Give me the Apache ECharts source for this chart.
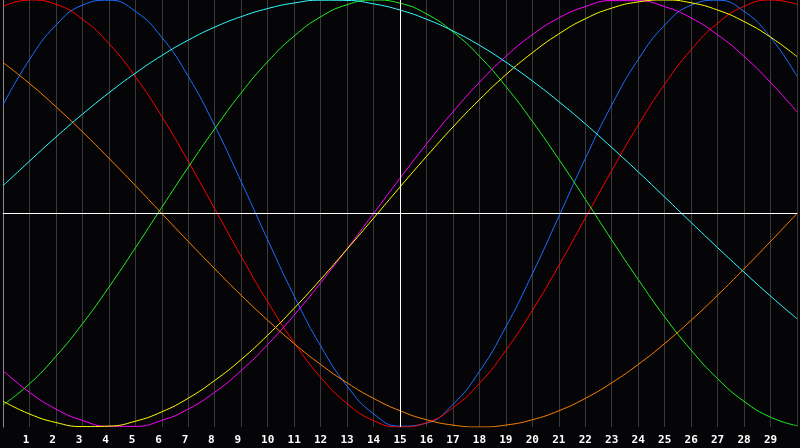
<!DOCTYPE html>
<html>
<head>
<meta charset="utf-8">
<title>Biorhythm</title>
<script src="https://cdn.jsdelivr.net/npm/echarts@6/dist/echarts.min.js"></script>
<style>
  html, body { margin: 0; padding: 0; background: #050508; }
  #chart { width: 800px; height: 448px; }
</style>
</head>
<body>
<div id="chart"></div>
<script>
// days along the bottom (0..30), labels shown 1..29
const days = [0,1,2,3,4,5,6,7,8,9,10,11,12,13,14,15,16,17,18,19,20,21,22,23,24,25,26,27,28,29,30];
const today = 15;

// values, one per day
const physical = [0.508,0.721,0.882,0.976,0.999,0.947,0.825,0.642,0.411,0.149,-0.123,-0.386,-0.620,-0.808,-0.938,-0.996,-0.982,-0.894,-0.740,-0.531,-0.283,-0.014,0.257,0.508,0.721,0.882,0.976,0.999,0.947,0.825,0.642];
const emotional = [0.970,1.000,0.980,0.910,0.796,0.641,0.454,0.244,0.022,-0.201,-0.414,-0.605,-0.767,-0.890,-0.970,-1.000,-0.980,-0.910,-0.796,-0.641,-0.454,-0.244,-0.022,0.201,0.414,0.605,0.767,0.891,0.970,1.000,0.980];
const intellectual = [-0.897,-0.798,-0.669,-0.517,-0.345,-0.161,0.029,0.217,0.397,0.565,0.711,0.831,0.921,0.978,1.000,0.985,0.935,0.851,0.737,0.595,0.432,0.254,0.067,-0.124,-0.309,-0.484,-0.640,-0.774,-0.880,-0.954,-0.994];
const intuitive = [-0.736,-0.837,-0.916,-0.969,-0.997,-0.997,-0.969,-0.916,-0.837,-0.736,-0.614,-0.476,-0.325,-0.165,0.000,0.165,0.325,0.476,0.614,0.736,0.837,0.916,0.969,0.997,0.997,0.969,0.916,0.837,0.736,0.614,0.476];
const aesthetic = [-0.879,-0.939,-0.979,-0.998,-0.996,-0.973,-0.929,-0.865,-0.782,-0.684,-0.570,-0.444,-0.309,-0.167,-0.022,0.124,0.267,0.405,0.533,0.650,0.753,0.841,0.912,0.962,0.991,1.000,0.987,0.953,0.899,0.826,0.735];
const awareness = [0.707,0.609,0.500,0.383,0.259,0.131,0.000,-0.131,-0.259,-0.383,-0.500,-0.609,-0.707,-0.793,-0.866,-0.924,-0.966,-0.991,-1.000,-0.991,-0.966,-0.924,-0.866,-0.793,-0.707,-0.609,-0.500,-0.383,-0.259,-0.131,0.000];
const spiritual = [0.130,0.245,0.358,0.465,0.565,0.657,0.740,0.812,0.873,0.922,0.960,0.986,0.999,0.998,0.982,0.953,0.910,0.855,0.788,0.709,0.621,0.524,0.420,0.309,0.195,0.077,-0.042,-0.160,-0.275,-0.387,-0.493];

const curves = [
  { name: "Physical", data: physical, color: "#1e6eff" },
  { name: "Emotional", data: emotional, color: "#ff0000" },
  { name: "Intellectual", data: intellectual, color: "#22ee22" },
  { name: "Intuitive", data: intuitive, color: "#ff00ff" },
  { name: "Aesthetic", data: aesthetic, color: "#ffff00" },
  { name: "Awareness", data: awareness, color: "#ff8000" },
  { name: "Spiritual", data: spiritual, color: "#33ffff" },
];

let chart = echarts.init(document.getElementById("chart"));

let series = curves.map((c) => {
  return {
    name: c.name,
    type: "line",
    smooth: true,
    showSymbol: false,
    symbol: "none",
    lineStyle: { color: c.color, width: 1 },
    data: days.map((d, i) => [d, c.data[i]]),
  };
});

// white cross: today and the zero line
series.push({
  type: "line",
  data: [],
  silent: true,
  markLine: {
    silent: true,
    symbol: "none",
    label: { show: false },
    lineStyle: { color: "#ffffff", width: 1, type: "solid" },
    data: [{ xAxis: today }, { yAxis: 0 }],
  },
});

let options = {
  backgroundColor: "#050508",
  animation: false,
  grid: { left: 1, right: 0, top: 0, bottom: 21 },
  xAxis: {
    type: "value",
    min: 0,
    max: 30,
    interval: 1,
    axisLine: { show: true, lineStyle: { color: "#8a8a8a", width: 1 } },
    axisTick: { show: false },
    axisLabel: {
      color: "#ffffff",
      fontFamily: "DejaVu Sans Mono",
      fontWeight: "bold",
      fontSize: 11,
      margin: 8,
      // single digits sit just left of their line, like the original
      formatter: (v) => {
        if (v < 1 || v > 29) return "";
        return v < 10 ? v + " " : String(v);
      },
    },
    splitLine: { show: true, lineStyle: { color: "#3a3a3a", width: 1 } },
  },
  yAxis: {
    type: "value",
    min: -1,
    max: 1,
    axisLine: { show: true, lineStyle: { color: "#8a8a8a", width: 1 } },
    axisTick: { show: false },
    axisLabel: { show: false },
    splitLine: { show: false },
  },
  series: series,
};
chart.setOption(options);
</script>
</body>
</html>
